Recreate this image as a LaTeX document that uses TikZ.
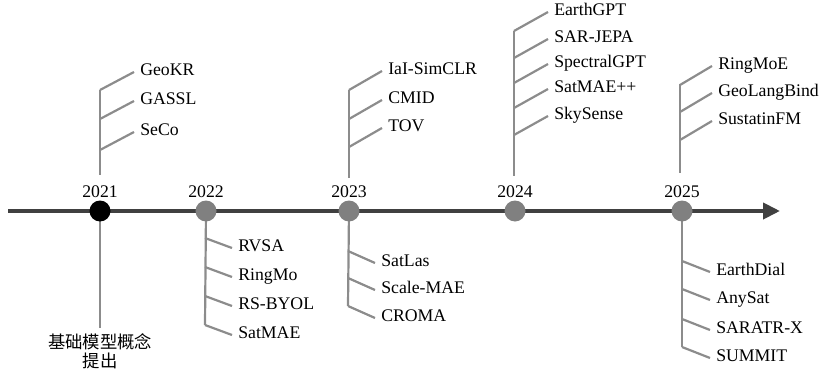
\documentclass[tikz,border=0pt]{standalone}
\usepackage{fontspec}
\setmainfont{Liberation Serif}
\newfontfamily\cjkfont{Noto Sans CJK SC}
\usetikzlibrary{arrows.meta}
\definecolor{axisgray}{HTML}{404040}
\definecolor{dotgray}{HTML}{808080}
\definecolor{twiggray}{HTML}{8C8C8C}

\begin{document}
\begin{tikzpicture}[x=0.75pt,y=-0.75pt,
    every node/.style={font=\fontsize{13.3}{15}\selectfont},
    model/.style={anchor=west,inner xsep=4.5pt,inner ysep=0pt,text height=1.45ex,text depth=0.25ex},
    yearlabel/.style={anchor=base,inner sep=0pt},
    twig/.style={twiggray,line width=1.65pt},
    yeardot/.style={circle,fill=dotgray,minimum size=15.75pt,inner sep=0pt}]
    \useasboundingbox (0,0) rectangle (829,371);
    \coordinate (axstart) at (8,211);
    \coordinate (axend) at (780,211);
    \draw[axisgray,line width=3pt,-{Triangle[length=12.75pt,width=12pt]}] (axstart) -- (axend);
    % upper branches
    \coordinate (t21) at (100,90);  \coordinate (b21) at (100,175);
    \coordinate (t23) at (349,90);  \coordinate (b23) at (349,178);
    \coordinate (t24) at (514,31);  \coordinate (b24) at (514,176);
    \coordinate (t25) at (680,84);  \coordinate (b25) at (680,173);
    \foreach \k in {21,23,24,25} \draw[twig] (t\k) -- (b\k);
    \foreach \m/\y [count=\i] in {GeoKR/72,GASSL/101,SeCo/132} {
        \coordinate (s21-\i) at (100,\y+18);
        \node[model] (u21-\i) at (134,\y) {\m};
        \draw[twig] (s21-\i) -- (u21-\i.west);
    }
    \foreach \m/\y [count=\i] in {IaI-SimCLR/71,CMID/100,TOV/128} {
        \coordinate (s23-\i) at (349,\y+19);
        \node[model] (u23-\i) at (382,\y) {\m};
        \draw[twig] (s23-\i) -- (u23-\i.west);
    }
    \foreach \m/\y [count=\i] in {EarthGPT/12,SAR-JEPA/39,SpectralGPT/64,SatMAE++/89,SkySense/116} {
        \coordinate (s24-\i) at (514,\y+19);
        \node[model] (u24-\i) at (548,\y) {\m};
        \draw[twig] (s24-\i) -- (u24-\i.west);
    }
    \foreach \m/\y [count=\i] in {RingMoE/66,GeoLangBind/93,SustatinFM/121} {
        \coordinate (s25-\i) at (680,\y+19);
        \node[model] (u25-\i) at (712,\y) {\m};
        \draw[twig] (s25-\i) -- (u25-\i.west);
    }
    % lower branches
    \coordinate (c21) at (100,328);
    \coordinate (c22) at (205,325);
    \coordinate (c23) at (348,306);
    \coordinate (c25) at (682,347);
    \foreach \k/\x in {21/100,22/206,23/349,25/682} \draw[twig] (\x,211) -- (c\k);
    \foreach \m/\y [count=\i] in {RVSA/248,RingMo/277,RS-BYOL/306,SatMAE/335} {
        \coordinate (s22-\i) at (205,\y-10);
        \node[model] (d22-\i) at (232,\y) {\m};
        \draw[twig] (s22-\i) -- (d22-\i.west);
    }
    \foreach \m/\y [count=\i] in {SatLas/263,Scale-MAE/290,CROMA/318} {
        \coordinate (s23d-\i) at (348,\y-12);
        \node[model] (d23-\i) at (375,\y) {\m};
        \draw[twig] (s23d-\i) -- (d23-\i.west);
    }
    \foreach \m/\y [count=\i] in {EarthDial/272,AnySat/300,SARATR-X/330,SUMMIT/358} {
        \coordinate (s25d-\i) at (682,\y-11);
        \node[model] (d25-\i) at (710,\y) {\m};
        \draw[twig] (s25d-\i) -- (d25-\i.west);
    }
    \node[anchor=north,inner sep=0pt,align=center,font=\cjkfont\fontsize{13}{14.4}\selectfont] (concept) at (100,333) {基础模型概念\\提出};
    % years
    \node[yeardot,fill=black] (y21) at (100,211) {};
    \foreach \k/\x in {22/206,23/349,24/515,25/682} \node[yeardot] (y\k) at (\x,211) {};
    \foreach \k/\x in {21/100,22/206,23/349,24/515,25/682} \node[yearlabel] (l\k) at (\x,197) {20\k};
\end{tikzpicture}
\end{document}
